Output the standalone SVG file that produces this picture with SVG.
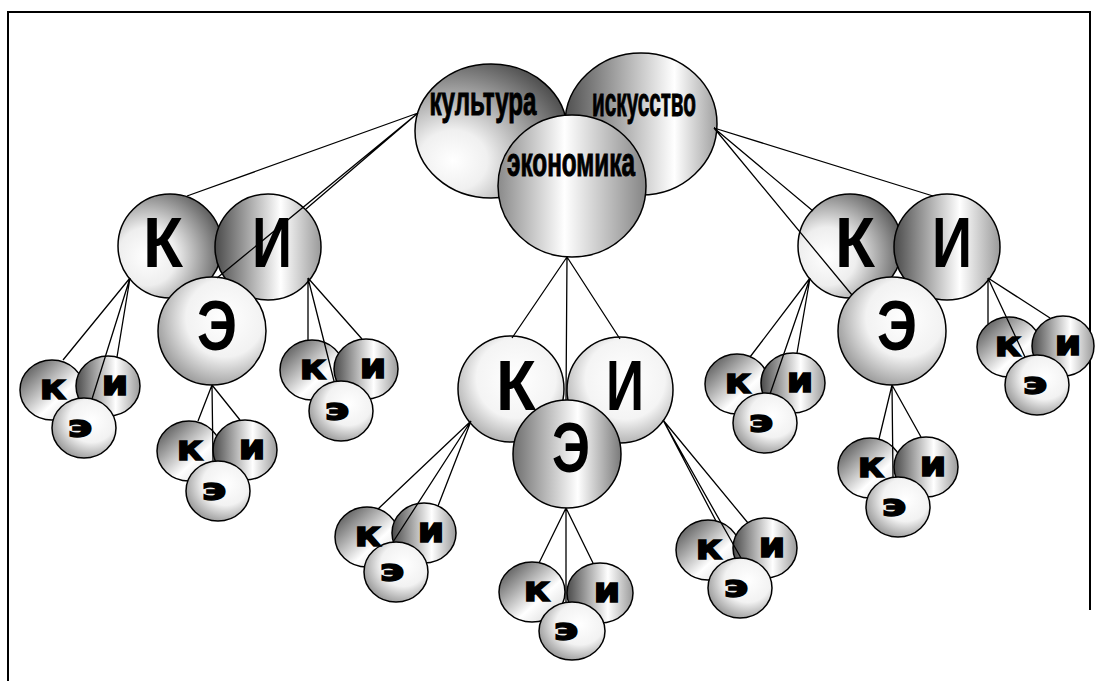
<svg xmlns="http://www.w3.org/2000/svg" width="1098" height="681" viewBox="0 0 1098 681">
<defs>
<linearGradient id="gKs" x1="0" y1="0" x2="1" y2="1"><stop offset="0" stop-color="#3a3a3a"/><stop offset="0.62" stop-color="#ffffff"/><stop offset="1" stop-color="#d0d0d0"/></linearGradient>
<linearGradient id="gI" x1="0" y1="0" x2="1" y2="0"><stop offset="0" stop-color="#4a4a4a"/><stop offset="0.62" stop-color="#ffffff"/><stop offset="1" stop-color="#9a9a9a"/></linearGradient>
<radialGradient id="gE" cx="0.62" cy="0.38" r="0.72"><stop offset="0" stop-color="#ffffff"/><stop offset="0.5" stop-color="#f2f2f2"/><stop offset="1" stop-color="#8a8a8a"/></radialGradient>
<radialGradient id="gKb" cx="0.28" cy="0.6" r="0.8"><stop offset="0" stop-color="#ffffff"/><stop offset="0.35" stop-color="#eeeeee"/><stop offset="1" stop-color="#4a4a4a"/></radialGradient>
<radialGradient id="gL" cx="0.55" cy="0.4" r="0.75"><stop offset="0" stop-color="#ffffff"/><stop offset="0.5" stop-color="#f4f4f4"/><stop offset="1" stop-color="#8a8a8a"/></radialGradient>
<linearGradient id="gEc" x1="0" y1="0" x2="1" y2="0"><stop offset="0" stop-color="#6e6e6e"/><stop offset="0.6" stop-color="#ffffff"/><stop offset="1" stop-color="#7a7a7a"/></linearGradient>
<radialGradient id="gKul" cx="0.25" cy="0.72" r="0.9"><stop offset="0" stop-color="#ffffff"/><stop offset="0.25" stop-color="#f0f0f0"/><stop offset="1" stop-color="#3c3c3c"/></radialGradient>
<linearGradient id="gIsk" x1="0" y1="0" x2="1" y2="0"><stop offset="0" stop-color="#505050"/><stop offset="0.72" stop-color="#ffffff"/><stop offset="1" stop-color="#a0a0a0"/></linearGradient>
<linearGradient id="gEko" x1="0" y1="0" x2="1" y2="0"><stop offset="0" stop-color="#8a8a8a"/><stop offset="0.45" stop-color="#ffffff"/><stop offset="1" stop-color="#858585"/></linearGradient>
</defs>
<style>
.c{stroke:#000;stroke-width:1.5}
.ln{stroke:#000;stroke-width:1.3;fill:none}
.big{font-family:"Liberation Sans",Arial,sans-serif;font-weight:bold;font-size:70px;text-anchor:middle;fill:#000}
.sm{font-family:"DejaVu Sans",sans-serif;font-weight:bold;font-size:34px;text-anchor:middle;fill:#000;stroke:#000;stroke-width:1.3}
.se{font-family:"DejaVu Sans",sans-serif;font-weight:bold;font-size:31px;text-anchor:middle;fill:#000;stroke:#000;stroke-width:1.3}
.tp{font-family:"Liberation Sans",Arial,sans-serif;font-weight:bold;font-size:40px;text-anchor:middle;fill:#000;stroke:#000;stroke-width:1}
.frame{stroke:#000;stroke-width:2;fill:none}
</style>
<rect width="1098" height="681" fill="#fff"/>
<path class="frame" d="M8,681 V12 H1090 V610"/>

<g id="top">
<ellipse class="c" cx="641" cy="124" rx="76" ry="71" fill="url(#gIsk)"/>
<ellipse class="c" cx="491" cy="131" rx="76" ry="67" fill="url(#gKul)"/>
<ellipse class="c" cx="572" cy="186" rx="74" ry="71" fill="url(#gEko)"/>
<text class="tp" x="483" y="115" textLength="107" lengthAdjust="spacingAndGlyphs">культура</text>
<text class="tp" x="644" y="116" textLength="104" lengthAdjust="spacingAndGlyphs">искусство</text>
<text class="tp" x="571" y="176" textLength="128" lengthAdjust="spacingAndGlyphs">экономика</text>
</g>

<g id="left-big">
<circle class="c" cx="170" cy="246" r="52" fill="url(#gKb)"/>
<circle class="c" cx="268" cy="247" r="53" fill="url(#gI)"/>
<circle class="c" cx="212" cy="331" r="54" fill="url(#gE)"/>
<text class="big" x="163" y="267" textLength="40" lengthAdjust="spacingAndGlyphs">К</text>
<text class="big" x="272" y="267" textLength="40" lengthAdjust="spacingAndGlyphs">И</text>
<text class="big" x="217" y="350" textLength="40" lengthAdjust="spacingAndGlyphs">Э</text>
</g>

<g id="center-big">
<circle class="c" cx="511" cy="389" r="53" fill="url(#gL)"/>
<circle class="c" cx="620" cy="390" r="53" fill="url(#gL)"/>
<circle class="c" cx="567" cy="454" r="54" fill="url(#gEc)"/>
<text class="big" x="516" y="410" textLength="40" lengthAdjust="spacingAndGlyphs">К</text>
<text class="big" x="625" y="410" textLength="38" lengthAdjust="spacingAndGlyphs">И</text>
<text class="big" x="571" y="472" textLength="38" lengthAdjust="spacingAndGlyphs">Э</text>
</g>

<g id="right-big">
<circle class="c" cx="850" cy="246" r="52" fill="url(#gKb)"/>
<circle class="c" cx="947" cy="247" r="53" fill="url(#gI)"/>
<circle class="c" cx="892" cy="331" r="54" fill="url(#gE)"/>
<text class="big" x="855" y="267" textLength="40" lengthAdjust="spacingAndGlyphs">К</text>
<text class="big" x="952" y="267" textLength="40" lengthAdjust="spacingAndGlyphs">И</text>
<text class="big" x="897" y="350" textLength="40" lengthAdjust="spacingAndGlyphs">Э</text>
</g>

<g id="s1">
<ellipse class="c" cx="52" cy="390" rx="32" ry="30" fill="url(#gKs)"/>
<ellipse class="c" cx="108" cy="386" rx="32" ry="30" fill="url(#gI)"/>
<ellipse class="c" cx="84" cy="428" rx="32" ry="30" fill="url(#gE)"/>
<text class="sm" x="53" y="399" textLength="27" lengthAdjust="spacingAndGlyphs">к</text>
<text class="sm" x="115" y="395" textLength="27" lengthAdjust="spacingAndGlyphs">и</text>
<text class="se" x="80" y="437" textLength="25" lengthAdjust="spacingAndGlyphs">э</text>
</g>
<g id="s2">
<ellipse class="c" cx="189" cy="451" rx="32" ry="30" fill="url(#gKs)"/>
<ellipse class="c" cx="245" cy="450" rx="32" ry="30" fill="url(#gI)"/>
<ellipse class="c" cx="218" cy="491" rx="32" ry="30" fill="url(#gE)"/>
<text class="sm" x="190" y="460" textLength="27" lengthAdjust="spacingAndGlyphs">к</text>
<text class="sm" x="252" y="459" textLength="27" lengthAdjust="spacingAndGlyphs">и</text>
<text class="se" x="214" y="500" textLength="25" lengthAdjust="spacingAndGlyphs">э</text>
</g>
<g id="s3">
<ellipse class="c" cx="312" cy="370" rx="32" ry="30" fill="url(#gKs)"/>
<ellipse class="c" cx="366" cy="369" rx="32" ry="30" fill="url(#gI)"/>
<ellipse class="c" cx="341" cy="411" rx="32" ry="30" fill="url(#gE)"/>
<text class="sm" x="313" y="379" textLength="27" lengthAdjust="spacingAndGlyphs">к</text>
<text class="sm" x="373" y="378" textLength="27" lengthAdjust="spacingAndGlyphs">и</text>
<text class="se" x="337" y="420" textLength="25" lengthAdjust="spacingAndGlyphs">э</text>
</g>
<g id="s4">
<ellipse class="c" cx="367" cy="537" rx="32" ry="30" fill="url(#gKs)"/>
<ellipse class="c" cx="424" cy="533" rx="32" ry="30" fill="url(#gI)"/>
<ellipse class="c" cx="396" cy="572" rx="32" ry="30" fill="url(#gE)"/>
<text class="sm" x="368" y="546" textLength="27" lengthAdjust="spacingAndGlyphs">к</text>
<text class="sm" x="431" y="542" textLength="27" lengthAdjust="spacingAndGlyphs">и</text>
<text class="se" x="392" y="581" textLength="25" lengthAdjust="spacingAndGlyphs">э</text>
</g>
<g id="s5">
<ellipse class="c" cx="532" cy="592" rx="33" ry="30" fill="url(#gKs)"/>
<ellipse class="c" cx="600" cy="593" rx="33" ry="30" fill="url(#gI)"/>
<ellipse class="c" cx="572" cy="631" rx="33" ry="29" fill="url(#gE)"/>
<text class="sm" x="537" y="601" textLength="27" lengthAdjust="spacingAndGlyphs">к</text>
<text class="sm" x="607" y="602" textLength="27" lengthAdjust="spacingAndGlyphs">и</text>
<text class="se" x="566" y="640" textLength="25" lengthAdjust="spacingAndGlyphs">э</text>
</g>
<g id="s6">
<ellipse class="c" cx="708" cy="550" rx="32" ry="30" fill="url(#gKs)"/>
<ellipse class="c" cx="765" cy="548" rx="32" ry="30" fill="url(#gI)"/>
<ellipse class="c" cx="740" cy="588" rx="32" ry="30" fill="url(#gE)"/>
<text class="sm" x="709" y="559" textLength="27" lengthAdjust="spacingAndGlyphs">к</text>
<text class="sm" x="772" y="557" textLength="27" lengthAdjust="spacingAndGlyphs">и</text>
<text class="se" x="736" y="597" textLength="25" lengthAdjust="spacingAndGlyphs">э</text>
</g>
<g id="s7">
<ellipse class="c" cx="737" cy="384" rx="32" ry="30" fill="url(#gKs)"/>
<ellipse class="c" cx="793" cy="383" rx="32" ry="30" fill="url(#gI)"/>
<ellipse class="c" cx="765" cy="423" rx="32" ry="30" fill="url(#gE)"/>
<text class="sm" x="738" y="393" textLength="27" lengthAdjust="spacingAndGlyphs">к</text>
<text class="sm" x="800" y="392" textLength="27" lengthAdjust="spacingAndGlyphs">и</text>
<text class="se" x="761" y="432" textLength="25" lengthAdjust="spacingAndGlyphs">э</text>
</g>
<g id="s8">
<ellipse class="c" cx="870" cy="468" rx="32" ry="30" fill="url(#gKs)"/>
<ellipse class="c" cx="926" cy="467" rx="32" ry="30" fill="url(#gI)"/>
<ellipse class="c" cx="898" cy="507" rx="32" ry="30" fill="url(#gE)"/>
<text class="sm" x="871" y="477" textLength="27" lengthAdjust="spacingAndGlyphs">к</text>
<text class="sm" x="933" y="476" textLength="27" lengthAdjust="spacingAndGlyphs">и</text>
<text class="se" x="894" y="516" textLength="25" lengthAdjust="spacingAndGlyphs">э</text>
</g>
<g id="s9">
<ellipse class="c" cx="1009" cy="347" rx="32" ry="30" fill="url(#gKs)"/>
<ellipse class="c" cx="1063" cy="346" rx="31" ry="30" fill="url(#gI)"/>
<ellipse class="c" cx="1037" cy="385" rx="32" ry="30" fill="url(#gE)"/>
<text class="sm" x="1008" y="356" textLength="27" lengthAdjust="spacingAndGlyphs">к</text>
<text class="sm" x="1068" y="355" textLength="27" lengthAdjust="spacingAndGlyphs">и</text>
<text class="se" x="1035" y="394" textLength="25" lengthAdjust="spacingAndGlyphs">э</text>
</g>

<g id="connectors" class="ln">
<path d="M418,113 L187,196 M418,113 L306,209 M418,113 L217,278"/>
<path d="M714,128 L933,196 M714,128 L813,211 M714,128 L852,295"/>
<path d="M567,257 L512,338 M567,257 L566,400 M567,257 L620,339"/>
<path d="M130,278 L63,360 M130,278 L92,399 M130,278 L117,357"/>
<path d="M308,278 L308,340 M308,278 L334,381 M308,278 L362,339"/>
<path d="M212,385 L198,421 M212,385 L213,461 M212,385 L240,420"/>
<path d="M471,421 L378,509 M471,421 L393,542 M471,421 L438,506"/>
<path d="M566,508 L539,563 M566,508 L566,602 M566,508 L593,563"/>
<path d="M663,420 L716,521 M663,420 L741,558 M663,420 L748,523"/>
<path d="M810,278 L750,357 M810,278 L770,394 M810,278 L797,353"/>
<path d="M892,385 L879,439 M892,385 L893,477 M892,385 L921,437"/>
<path d="M988,278 L988,324 M988,278 L1025,357 M988,278 L1050,318"/>
</g>
</svg>
